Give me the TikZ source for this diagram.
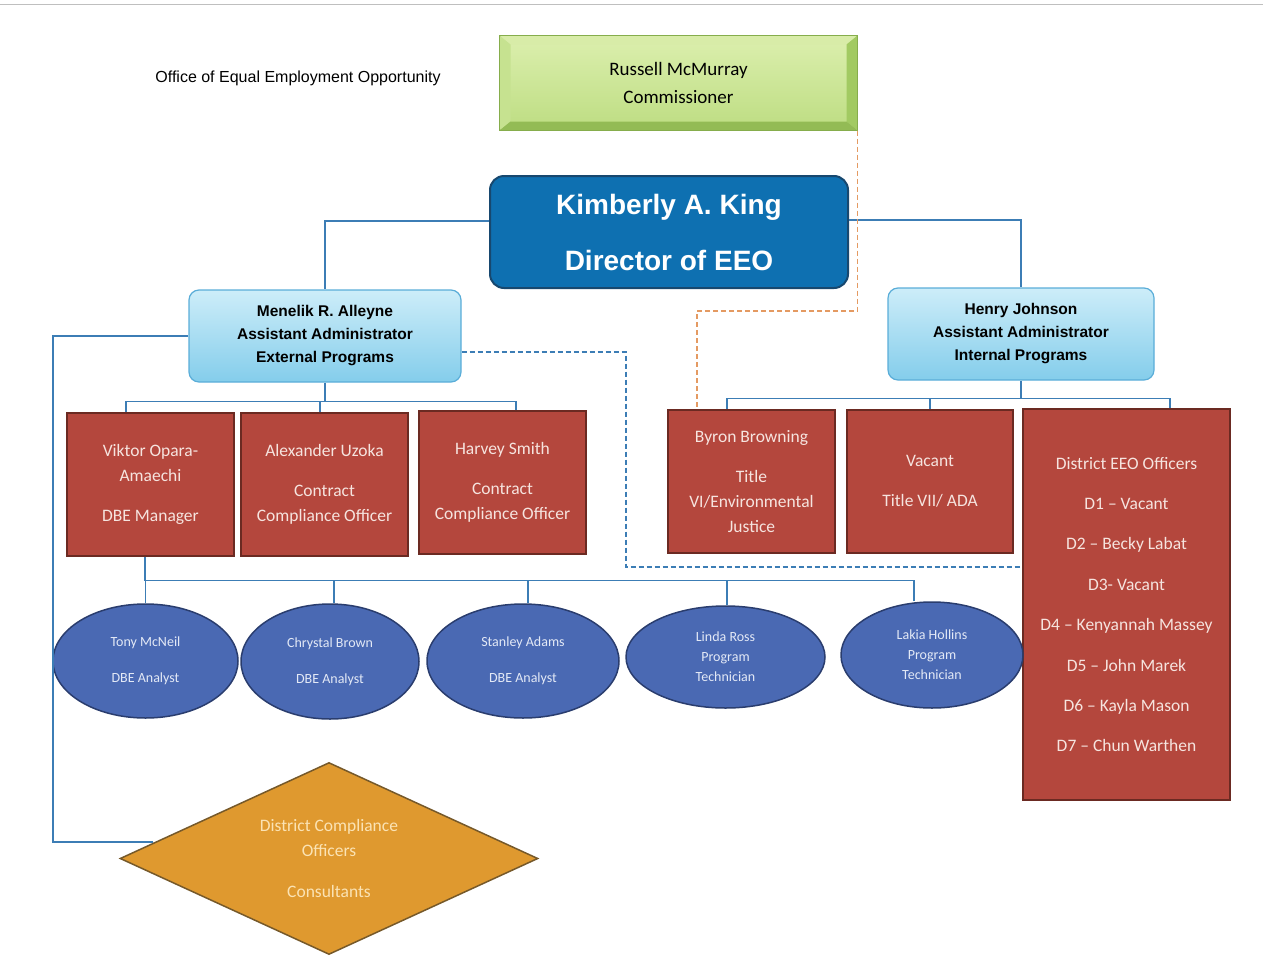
\documentclass[tikz,border=0pt]{standalone}
\usepackage{fontspec}
\setmainfont{Carlito}
\newfontfamily\arialfont{Liberation Sans}
\usetikzlibrary{shapes.geometric,calc}

\definecolor{linkblue}{HTML}{3C7DB5}
\definecolor{redfill}{HTML}{B4473D}
\definecolor{redline}{HTML}{6B2A22}
\definecolor{redtext}{HTML}{F6E4DF}
\definecolor{ovalfill}{HTML}{4A69B3}
\definecolor{ovalline}{HTML}{2A3D6E}
\definecolor{ovaltext}{HTML}{E3E9F6}
\definecolor{dirfill}{HTML}{0E70B1}
\definecolor{dirline}{HTML}{17486F}
\definecolor{admtop}{HTML}{CDEDF9}
\definecolor{admbot}{HTML}{84CDEB}
\definecolor{admline}{HTML}{5AADD8}
\definecolor{facetop}{HTML}{DCEFAE}
\definecolor{facebot}{HTML}{BDDD82}
\definecolor{bevtop}{HTML}{D8ECA8}
\definecolor{bevleft}{HTML}{C6E290}
\definecolor{bevright}{HTML}{A2CA62}
\definecolor{bevbot}{HTML}{93BB55}
\definecolor{bevdark}{HTML}{86AD4C}
\definecolor{orline}{HTML}{E49A62}
\definecolor{diafill}{HTML}{DF992F}
\definecolor{dialine}{HTML}{76592A}
\definecolor{diatext}{HTML}{FBE3B4}

\begin{document}
\begin{tikzpicture}[x=1pt,y=-1pt,
  link/.style={draw=linkblue,line width=1.3pt},
  ordash/.style={draw=orline,line width=1.3pt,dash pattern=on 5pt off 3pt},
  bldash/.style={draw=linkblue,line width=1.3pt,dash pattern=on 5pt off 3pt},
  redbox/.style={draw=redline,line width=1.5pt,fill=redfill,text=redtext,minimum width=167pt,minimum height=143pt,inner sep=0pt,align=center,font=\fontsize{17.5}{25}\selectfont},
  oval/.style={ellipse,draw=ovalline,line width=1.5pt,fill=ovalfill,text=ovaltext,inner sep=0pt,align=center,font=\fontsize{14}{20}\selectfont},
  adminbox/.style={draw=admline,line width=1.2pt,top color=admtop,bottom color=admbot,rounded corners=10pt,minimum height=92pt,inner sep=0pt,align=center,font=\arialfont\bfseries\fontsize{15.5}{23}\selectfont}]
\useasboundingbox (0,0) rectangle (1263,977);
\draw[black!25,line width=1pt] (0,4) -- (1263,4);

\node (title) at (298,78) {\arialfont\fontsize{16}{20}\selectfont Office of Equal Employment Opportunity};

\node[draw=bevdark,line width=1pt,top color=facetop,bottom color=facebot,minimum width=357pt,minimum height=94pt,inner sep=0pt,align=center,font=\fontsize{19}{28}\selectfont] (comm) at (678.5,83) {Russell McMurray\\Commissioner};
\fill[bevtop] (comm.north west) -- (comm.north east) -- ($(comm.north east)+(-11,9)$) -- ($(comm.north west)+(11,9)$) -- cycle;
\fill[bevleft] (comm.north west) -- ($(comm.north west)+(11,9)$) -- ($(comm.south west)+(11,-9)$) -- (comm.south west) -- cycle;
\fill[bevright] (comm.north east) -- ($(comm.north east)+(-11,9)$) -- ($(comm.south east)+(-11,-9)$) -- (comm.south east) -- cycle;
\fill[bevbot] (comm.south west) -- (comm.south east) -- ($(comm.south east)+(-11,-9)$) -- ($(comm.south west)+(11,-9)$) -- cycle;
\draw[bevdark,line width=1pt] (comm.north west) rectangle (comm.south east);

\node[draw=dirline,line width=2pt,fill=dirfill,rounded corners=14pt,minimum width=358pt,minimum height=112pt,inner sep=0pt,text=white,align=center,font=\arialfont\bfseries\fontsize{28}{56}\selectfont] (dir) at (669,232) {Kimberly A. King\\Director of EEO};

\node[adminbox,minimum width=272pt] (ext) at (325,336) {Menelik R. Alleyne\\Assistant Administrator\\External Programs};
\node[adminbox,minimum width=266pt] (int) at (1021,334) {Henry Johnson\\Assistant Administrator\\Internal Programs};

\node[redbox] (viktor) at (150.5,484.5) {Viktor Opara-\\Amaechi\\[15pt]DBE Manager};
\node[redbox] (uzoka) at (324.5,484.5) {Alexander Uzoka\\[15pt]Contract\\Compliance Officer};
\node[redbox] (hsmith) at (502.5,482.5) {Harvey Smith\\[15pt]Contract\\Compliance Officer};
\node[redbox] (byron) at (751.5,481.5) {Byron Browning\\[15pt]Title\\VI/Environmental\\Justice};
\node[redbox,minimum width=166pt] (vac) at (930,481.5) {Vacant\\[15pt]Title VII/ ADA};
\node[redbox,minimum width=207pt,minimum height=391pt,font=\fontsize{17.5}{40.4}\selectfont] (deeo) at (1126.5,604.5) {District EEO Officers\\D1 -- Vacant\\D2 -- Becky Labat\\D3- Vacant\\D4 -- Kenyannah Massey\\D5 -- John Marek\\D6 -- Kayla Mason\\D7 -- Chun Warthen};

\node[oval,minimum width=185pt,minimum height=114pt] (tony) at (145.5,661) {Tony McNeil\\[16pt]DBE Analyst};
\node[oval,minimum width=178pt,minimum height=115pt] (chrystal) at (330,661.5) {Chrystal Brown\\[16pt]DBE Analyst};
\node[oval,minimum width=192pt,minimum height=114pt] (stanley) at (523,661) {Stanley Adams\\[16pt]DBE Analyst};
\node[oval,minimum width=199pt,minimum height=102pt] (linda) at (725.5,657) {Linda Ross\\Program\\Technician};
\node[oval,minimum width=182pt,minimum height=106pt] (lakia) at (932,655) {Lakia Hollins\\Program\\Technician};

\node[diamond,aspect=2.18,draw=dialine,line width=1.5pt,fill=diafill,text=diatext,minimum width=418pt,minimum height=192pt,inner sep=0pt,align=center,font=\fontsize{17.5}{25}\selectfont] (dcomp) at (329,858.5) {District Compliance\\Officers\\[16pt]Consultants};

\draw[link] ([yshift=11pt]dir.west) -| (ext.north);
\draw[link] ([yshift=12pt]dir.east) -| (int.north);

\draw[link] (ext.south) -- ++(0,19) coordinate (eb);
\foreach \n/\dx in {viktor/-24.5,uzoka/-4.5,hsmith/13.5}
  \draw[link] ([xshift=\dx pt]\n.north) |- (eb);
\draw[link] (int.south) -- ++(0,18) coordinate (ib);
\foreach \n/\dx in {byron/-24.5,vac/0,deeo/43.5}
  \draw[link] ([xshift=\dx pt]\n.north) |- (ib);
\draw[link] ([xshift=-5.5pt]viktor.south) -- ++(0,24) coordinate (vb);
\foreach \n/\dx in {tony/0,chrystal/4,stanley/5,linda/1.5,lakia/-18}
  \draw[link] ([xshift=\dx pt]\n.north) |- (vb);

\coordinate (lft) at (53,842);
\draw[link] (ext.west) -| (lft) -- (lft -| dcomp.175);

\coordinate (okink) at (697,311);
\draw[ordash] (comm.south east) |- (okink) -- (okink |- byron.north);
\coordinate (bkink) at (626,352);
\draw[bldash] (bkink -| ext.east) -- (bkink) |- (deeo.west |- 0,567);
\end{tikzpicture}
\end{document}
